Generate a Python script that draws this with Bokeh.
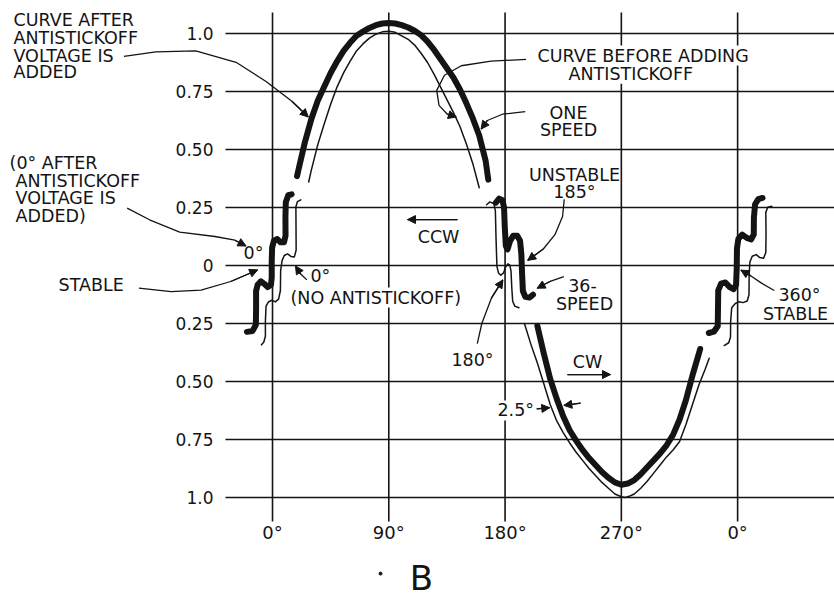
from bokeh.plotting import figure
from bokeh.models import ColumnDataSource, Arrow, NormalHead, Range1d
from bokeh.core.properties import value
from bokeh.embed import file_html
from bokeh.resources import INLINE

# ---------------- data (degrees of rotation, signal amplitude) ----------------
x_ticks = [0, 90, 180, 270, 360]
x_tick_labels = ["0°", "90°", "180°", "270°", "0°"]
y_ticks = [1.0, 0.75, 0.5, 0.25, 0.0, -0.25, -0.5, -0.75, -1.0]
y_tick_labels = ["1.0", "0.75", "0.50", "0.25", "0", "0.25", "0.50", "0.75", "1.0"]

# curve before adding antistickoff (thin, one speed)
before_upper_deg = [28, 30, 35, 40, 45, 50, 55, 60, 65, 70, 75, 80, 85, 90, 95, 100, 105,
                    110, 115, 120, 125, 130, 135, 140, 145, 150, 155, 160]
before_upper_val = [0.36, 0.41, 0.52, 0.61, 0.695, 0.77, 0.83, 0.88, 0.925, 0.955, 0.98, 0.997,
                    1.007, 1.01, 1.005, 0.99, 0.975, 0.95, 0.915, 0.875, 0.825, 0.77, 0.715,
                    0.66, 0.60, 0.525, 0.44, 0.335]
before_lower_deg = [195, 200, 205, 210, 215, 220, 225, 230, 235, 240, 245, 250, 255, 260, 265,
                    270, 273, 276, 280, 285, 290, 295, 300, 305, 310, 315, 320, 325, 330, 335, 338]
before_lower_val = [-0.25, -0.34, -0.42, -0.51, -0.60, -0.67, -0.72, -0.765, -0.805, -0.84,
                    -0.875, -0.905, -0.935, -0.96, -0.985, -0.997, -1.0, -0.995, -0.985, -0.96,
                    -0.93, -0.895, -0.86, -0.825, -0.795, -0.76, -0.685, -0.60, -0.515, -0.445, -0.40]

# curve after antistickoff voltage is added (thick)
after_upper_deg = [19, 20, 25, 30, 35, 40, 45, 50, 55, 60, 65, 70, 75, 80, 85, 90, 95, 100, 105,
                   110, 115, 120, 125, 130, 135, 140, 145, 150, 155, 160, 165, 167]
after_upper_val = [0.385, 0.41, 0.53, 0.63, 0.71, 0.77, 0.83, 0.88, 0.925, 0.96, 0.99, 1.008,
                   1.024, 1.036, 1.043, 1.045, 1.043, 1.036, 1.026, 1.012, 0.993, 0.965, 0.93,
                   0.89, 0.85, 0.81, 0.76, 0.70, 0.635, 0.56, 0.45, 0.37]
after_lower_deg = [205, 210, 215, 220, 225, 230, 235, 240, 245, 250, 255, 260, 265, 270, 275,
                   280, 285, 290, 295, 300, 305, 310, 315, 320, 325, 330, 331]
after_lower_val = [-0.26, -0.38, -0.49, -0.575, -0.65, -0.71, -0.755, -0.795, -0.83, -0.86,
                   -0.89, -0.915, -0.935, -0.945, -0.94, -0.925, -0.90, -0.87, -0.84, -0.81,
                   -0.775, -0.73, -0.665, -0.58, -0.475, -0.38, -0.36]

# 36-speed staircases near the nulls (thick = after, thin = before)
after_0_deg = [-19.8, -15.4, -12.9, -12.7, -12.7, -11.5, -9.0, -6.4, -3.7, -1.2, -0.6, -0.6,
               -0.3, 1.1, 3.7, 6.3, 8.9, 10.1, 10.0, 10.3, 12.2, 14.8]
after_0_val = [-0.286, -0.282, -0.256, -0.184, -0.110, -0.083, -0.068, -0.079, -0.093, -0.084,
               -0.052, 0.020, 0.077, 0.107, 0.114, 0.100, 0.100, 0.129, 0.209, 0.273, 0.303, 0.307]
before_0_deg = [21.9, 19.3, 18.1, 18.2, 18.3, 16.9, 14.3, 11.6, 9.1, 7.4, 6.3, 6.1, 4.7, 2.2,
                -0.4, -3.0, -5.0, -5.5, -5.5, -6.7, -8.5]
before_0_val = [0.283, 0.275, 0.253, 0.167, 0.066, 0.037, 0.039, 0.050, 0.043, 0.021, -0.022,
                -0.109, -0.145, -0.157, -0.150, -0.156, -0.175, -0.240, -0.305, -0.330, -0.342]
after_180_deg = [172.9, 175.4, 178.0, 179.2, 179.8, 180.6, 181.9, 183.9, 186.3, 189.4, 191.6,
                 192.6, 193.2, 193.8, 195.7, 199.0, 201.6]
after_180_val = [0.271, 0.288, 0.281, 0.250, 0.163, 0.084, 0.069, 0.106, 0.128, 0.128, 0.107,
                 0.049, -0.038, -0.110, -0.135, -0.138, -0.126]
before_180_deg = [165.7, 168.3, 171.4, 172.5, 173.0, 173.7, 174.9, 176.7, 178.8, 180.4, 182.2,
                  183.7, 184.6, 185.2, 185.9, 187.5, 190.7]
before_180_val = [0.262, 0.274, 0.266, 0.235, 0.119, -0.004, -0.032, -0.042, -0.032, -0.007,
                  0.007, 0.002, -0.024, -0.096, -0.154, -0.175, -0.182]
after_360_deg = [337.7, 341.6, 344.6, 344.8, 345.0, 347.2, 350.5, 353.7, 356.8, 358.8, 359.3,
                 359.5, 360.6, 363.6, 367.1, 370.5, 372.5, 372.6, 373.5, 376.0, 379.3]
after_360_val = [-0.291, -0.285, -0.262, -0.187, -0.107, -0.078, -0.073, -0.092, -0.102, -0.084,
                 -0.012, 0.075, 0.115, 0.133, 0.119, 0.112, 0.134, 0.206, 0.264, 0.286, 0.291]
before_360_deg = [386.4, 383.3, 381.8, 382.0, 381.8, 380.1, 377.2, 374.4, 371.3, 369.5, 368.9,
                  368.8, 367.4, 364.3, 361.2, 358.2, 355.4, 354.6, 354.5, 353.1, 349.6]
before_360_val = [0.255, 0.251, 0.229, 0.135, 0.056, 0.031, 0.034, 0.047, 0.040, 0.015, -0.040,
                  -0.126, -0.153, -0.160, -0.156, -0.164, -0.182, -0.243, -0.308, -0.333, -0.345]

# ---------------- figure ----------------
FONT = "DejaVu Sans"
INK = "#141414"

p = figure(width=834, height=601, x_range=Range1d(-210.53, 434.98),
           y_range=Range1d(-1.4483, 1.1422), min_border=0,
           toolbar_location=None, output_backend="svg",
           x_axis_type=None, y_axis_type=None)
p.outline_line_color = None
p.background_fill_color = "white"
p.border_fill_color = "white"

# grid
p.segment(x0=-36.4, x1=440, y0=y_ticks, y1=y_ticks, line_color=INK, line_width=1.6)
p.segment(x0=x_ticks, x1=x_ticks, y0=1.09, y1=-1.103, line_color=INK, line_width=1.6)

# tick labels
p.text(x=-45.7, y=y_ticks, text=y_tick_labels, text_align="right", text_baseline="middle",
       text_font=value(FONT), text_font_size="17px", text_color=INK)
p.text(x=x_ticks, y=-1.151, text=x_tick_labels, text_align="center", text_baseline="middle",
       text_font=value(FONT), text_font_size="18px", text_color=INK)

# curves
thin = dict(line_color=INK, line_width=1.5, line_join="round", line_cap="round")
thick = dict(line_color=INK, line_width=6, line_join="round", line_cap="round")
for xs, ys in [(before_upper_deg, before_upper_val), (before_lower_deg, before_lower_val),
               (before_0_deg, before_0_val), (before_180_deg, before_180_val),
               (before_360_deg, before_360_val)]:
    p.line(xs, ys, **thin)
for xs, ys in [(after_upper_deg, after_upper_val), (after_lower_deg, after_lower_val),
               (after_0_deg, after_0_val), (after_180_deg, after_180_val),
               (after_360_deg, after_360_val)]:
    p.line(xs, ys, **thick)

# leader lines with arrowheads
leaders = [
    ([-115.0, -90.3, -59.4, -28.2, -4.7, 15.0, 27.7], [0.901, 0.921, 0.925, 0.876, 0.792, 0.708, 0.640]),
    ([196.3, 169.2, 146.1, 133.1, 127.1, 128.9, 135.3, 142.3], [0.888, 0.881, 0.861, 0.820, 0.755, 0.690, 0.652, 0.640]),
    ([195.6, 177.9, 166.3, 161.5], [0.663, 0.652, 0.625, 0.588]),
    ([225.8, 224.5, 218.6, 209.6, 197.5], [0.285, 0.211, 0.133, 0.071, 0.022]),
    ([225.5, 215.5, 204.8], [-0.048, -0.067, -0.098]),
    ([158.5, 162.0, 169.4, 178.3], [-0.337, -0.250, -0.141, -0.062]),
    ([-112.5, -95.2, -71.8, -44.6, -29.1, -20.5], [0.247, 0.197, 0.144, 0.125, 0.109, 0.084]),
    ([-103.4, -78.5, -55.3, -32.3, -11.5], [-0.098, -0.113, -0.106, -0.069, -0.019]),
    ([26.6, 21.8, 17.8], [-0.062, -0.037, -0.002]),
    ([388.4, 378.2, 370.3, 362.5], [-0.108, -0.075, -0.045, -0.020]),
    ([204.5, 214.6], [-0.618, -0.613]),
    ([238.5, 225.5], [-0.593, -0.603]),
    ([143.2, 104.5], [0.198, 0.198]),
    ([228.3, 261.6], [-0.470, -0.470]),
]
p.multi_line([l[0] for l in leaders], [l[1] for l in leaders], line_color=INK, line_width=1.3)
for xs, ys in leaders:
    p.add_layout(Arrow(end=NormalHead(size=8, fill_color=INK, line_color=INK, line_width=1),
                       x_start=xs[-2], y_start=ys[-2], x_end=xs[-1], y_end=ys[-1],
                       line_color=INK, line_width=1.3))

# annotation texts
txt = dict(text_font=value(FONT), text_font_size="17.5px", text_color=INK, text_baseline="middle")
left = ColumnDataSource(dict(
    x=[-200.5, -200.5, -200.5, -200.5, -203.5, -198.9, -198.9, -198.9, -165.6, -22.4, 29.4],
    y=[1.056, 0.981, 0.905, 0.832, 0.440, 0.364, 0.289, 0.213, -0.086, 0.056, -0.047],
    text=["CURVE AFTER", "ANTISTICKOFF", "VOLTAGE IS", "ADDED", "(0° AFTER", "ANTISTICKOFF",
          "VOLTAGE IS", "ADDED)", "STABLE", "0°", "0°"]))
p.text(x="x", y="y", text="text", source=left, text_align="left", **txt)

boxed = ColumnDataSource(dict(
    x=[205.1, 229.1, 13.9, 174.1],
    y=[0.905, 0.826, -0.138, -0.625],
    text=["CURVE BEFORE ADDING", "ANTISTICKOFF", "(NO ANTISTICKOFF)", "2.5°"]))
p.text(x="x", y="y", text="text", source=boxed, text_align="left",
       background_fill_color="white", padding=0, **txt)

center = ColumnDataSource(dict(
    x=[229.1, 229.1, 233.7, 233.7, 239.9, 241.5, 128.5, 243.8, 154.8, 407.9, 404.8],
    y=[0.659, 0.582, 0.388, 0.315, -0.086, -0.164, 0.121, -0.418, -0.409, -0.129, -0.207],
    text=["ONE", "SPEED", "UNSTABLE", "185°", "36-", "SPEED", "CCW", "CW", "180°", "360°", "STABLE"]))
p.text(x="x", y="y", text="text", source=center, text_align="center", **txt)

# panel letter
p.text(x=[115.3], y=[-1.345], text=["B"], text_align="center", text_baseline="middle",
       text_font=value(FONT), text_font_size="34px", text_color=INK)
p.scatter(x=[83.6], y=[-1.328], size=3, color=INK)

open("out.html", "w").write(file_html(p, INLINE))
